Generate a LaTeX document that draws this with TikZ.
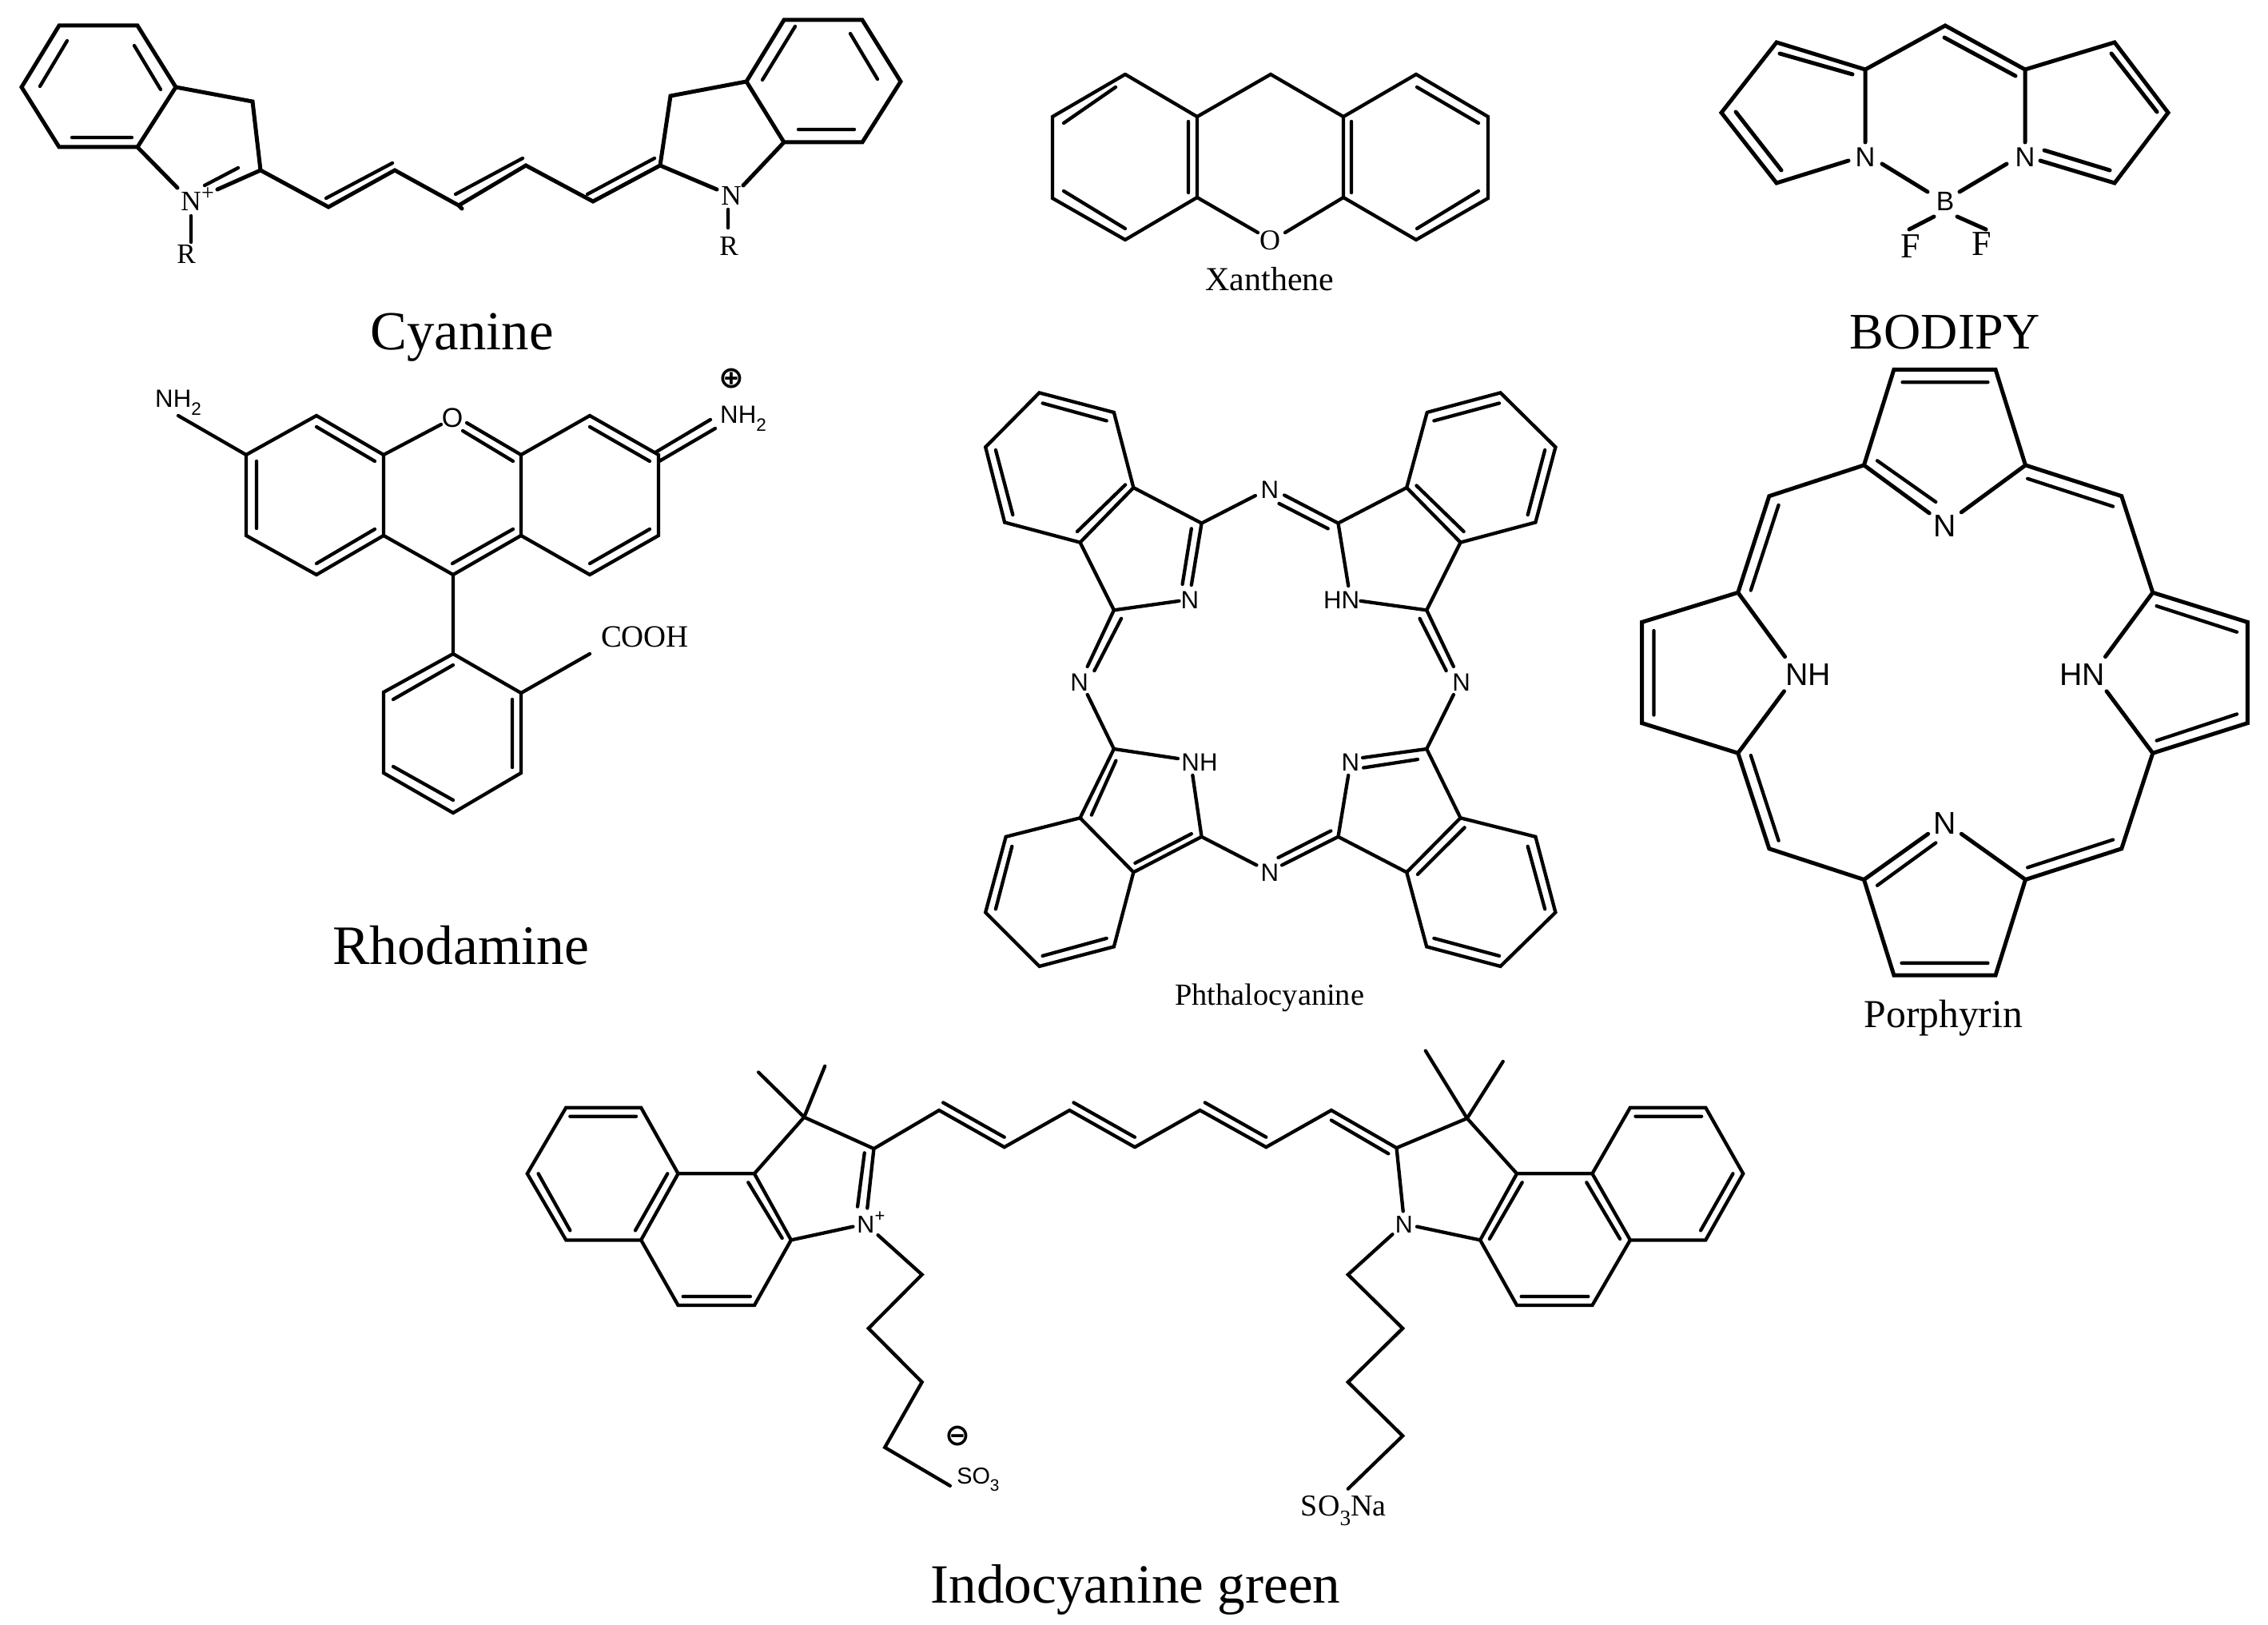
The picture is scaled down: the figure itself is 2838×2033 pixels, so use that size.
\documentclass[tikz,border=0pt]{standalone}
\usepackage{fontspec}
\setmainfont{Liberation Serif}
\setsansfont{Liberation Sans}
\newfontfamily\dejavu{DejaVu Sans}
\newcommand{\fsz}[1]{\fontsize{#1}{#1}\selectfont}
\newcommand{\lowsub}[1]{\raisebox{-0.32em}{\scalebox{0.72}{#1}}}
\tikzset{
  bond/.style={line width=1.08pt,line cap=round,line join=miter,black},
  bondA/.style={line width=1.25pt,line cap=round,line join=miter,black},
  atomS/.style={font=\sffamily\fsz{7.8},inner sep=0pt,text=black},
  atomR/.style={font=\fsz{8.8},inner sep=0pt,text=black},
  title/.style={font=\fsz{17.2},inner sep=0pt,anchor=base,text=black},
  chg/.style={font=\dejavu\bfseries\fsz{9.5},inner sep=0pt,text=black},
}
\begin{document}
\begin{tikzpicture}[x=0.25pt,y=-0.25pt]
\useasboundingbox (0,0) rectangle (2838,2033);
\fill[white] (0,0) rectangle (2838,2033);

% ---------- Cyanine
\draw[bondA] (74,32)--(172,32)--(220,109)--(172,184)--(74,184)--(27,109)--cycle
  (220,109)--(316,127)--(326,213)--(272,237)
  (172,184)--(222,235)
  (326,213)--(411,259)--(494,213)--(574,257)--(658,207)--(742,252)--(826,207)--(897,237)
  (574,257)--(578,261)
  (826,207)--(839,120)--(934,102)--(981,25)--(1079,25)--(1127,102)--(1079,178)--(981,178)--(934,102)
  (981,178)--(930,232);
\draw[bond] (84,51)--(50,108) (168,57)--(201,112) (90,172)--(165,172)
  (298,210)--(256,232)
  (408,248)--(491,204) (570,243)--(654,198) (735,243)--(819,198)
  (995,33)--(954,100) (1064,42)--(1098,99) (999,162)--(1069,162)
  (239,270)--(239,303) (911,262)--(911,285);
\node[atomR] (cyN1) at (239,252) {N};
\node[font=\fsz{7},inner sep=0pt] (cyPlus) at (260,243) {+};
\node[atomR] (cyR1) at (233,318) {R};
\node[atomR] (cyN2) at (915,245) {N};
\node[atomR] (cyR2) at (912,308) {R};
\node[title] (cyT) at (578,437) {Cyanine};

% ---------- Xanthene
\draw[bond] (1408,93)--(1498,146)--(1590,93)--(1681,146)--(1772,93)--(1862,146)--(1862,248)--(1772,300)--(1681,247)--(1681,146)
  (1681,247)--(1608,291)
  (1574,291)--(1498,247)--(1408,300)--(1317,248)--(1317,146)--(1408,93)
  (1498,146)--(1498,247);
\draw[bond] (1487,152)--(1487,241) (1691,152)--(1691,241)
  (1396,109)--(1331,154) (1331,239)--(1408,286)
  (1773,109)--(1850,154) (1850,239)--(1773,286);
\node[atomR,font=\fsz{9}] (xO) at (1589,301) {O};
\node[title,font=\fsz{10.5}] (xT) at (1589,364) {Xanthene};

% ---------- BODIPY
\draw[bondA] (2334,178)--(2334,87)--(2434,32)--(2534,87)--(2534,178)
  (2334,87)--(2223,53)--(2154,141)--(2223,229)--(2313,201)
  (2534,87)--(2646,53)--(2713,141)--(2646,229)--(2553,201)
  (2355,205)--(2412,240) (2511,205)--(2452,240)
  (2420,271)--(2389,287) (2449,271)--(2485,287)
  (2227,67)--(2318,93) (2172,140)--(2229,213)
  (2433,47)--(2522,95) (2642,67)--(2699,140)
  (2640,213)--(2558,188);
\node[atomS,font=\sffamily\fsz{8.6}] (bN1) at (2334,197) {N};
\node[atomS,font=\sffamily\fsz{8.6}] (bN2) at (2534,197) {N};
\node[atomS,font=\sffamily\fsz{8.4}] (bB) at (2434,252) {B};
\node[atomR,font=\fsz{11}] (bF1) at (2391,308) {F};
\node[atomR,font=\fsz{11}] (bF2) at (2480,305) {F};
\node[title,font=\fsz{16}] (bT) at (2434,436) {BODIPY};

% ---------- Rhodamine
\draw[bond] (223,520)--(308,569)--(396,520)--(480,569)--(480,670)--(396,719)--(308,670)--(308,569)
  (480,569)--(552,531) (584,529)--(652,569)--(652,670)--(567,719)--(480,670)
  (652,569)--(738,520)--(824,569)--(824,670)--(738,719)--(652,670)
  (825,577)--(895,536) (820,566)--(889,525)
  (567,719)--(567,818)--(652,867)--(652,967)--(567,1017)--(480,967)--(480,866)--(567,818)
  (652,867)--(738,818);
\draw[bond] (579,539)--(642,577) (396,534)--(469,577) (321,577)--(321,661)
  (396,705)--(469,662) (566,705)--(642,662) (738,534)--(813,577) (738,705)--(813,662)
  (492,875)--(567,832) (641,875)--(641,960) (492,959)--(567,1001);
\node[atomS] (rN1) at (223,504) {NH\lowsub{2}};
\node[atomS] (rN2) at (930,524) {NH\lowsub{2}};
\node[chg] (rP) at (915,474) {⊕};
\node[atomS,font=\sffamily\fsz{8.5}] (rO) at (566,523) {O};
\node[atomR,font=\fsz{9.7}] (rC) at (807,797) {COOH};
\node[title,font=\fsz{17.4}] (rT) at (577,1206) {Rhodamine};

% ---------- Phthalocyanine
\begin{scope}[shift={(1200,460)},x=0.12755pt,y=-0.13075pt]
\draw[bond] (197,60)--(380,107)--(428,287)--(297,418)--(112,370)--(65,190)--cycle
  (428,287)--(595,372)--(570,520) (297,418)--(380,580)--(540,558)
  (595,372)--(727,306) (798,305)--(930,372)--(955,522) (785,325)--(905,385)
  (930,372)--(1098,287)--(1230,418)--(1147,580)--(985,558)
  (1148,107)--(1328,60)--(1463,190)--(1414,370)--(1230,418)
  (1148,107)--(1098,287)
  (380,580)--(315,715) (398,600)--(332,725) (315,782)--(380,912)
  (1147,580)--(1213,715) (1130,600)--(1195,725) (1213,782)--(1147,912)
  (380,912)--(297,1077)--(428,1207)--(595,1122)--(573,975) (380,912)--(537,935)
  (297,1077)--(115,1122)--(65,1303)--(197,1432)--(380,1385)--(428,1207)
  (595,1122)--(730,1190) (930,1122)--(792,1190) (912,1108)--(783,1172)
  (1147,912)--(990,933) (992,957)--(1125,937) (955,975)--(930,1122)--(1098,1207)--(1230,1077)--(1147,912)
  (1230,1077)--(1414,1122)--(1463,1303)--(1328,1432)--(1147,1385)--(1098,1207);
\draw[bond] (205,85)--(362,127) (90,197)--(132,352) (290,392)--(408,280)
  (570,385)--(548,518)
  (1325,85)--(1165,127) (1437,197)--(1395,352) (1238,392)--(1122,282)
  (385,940)--(325,1070) (570,1115)--(432,1185)
  (130,1145)--(90,1295) (205,1407)--(362,1365)
  (1395,1145)--(1437,1295) (1165,1365)--(1325,1407) (1240,1100)--(1125,1212);
\node[atomS] (pN1) at (566,555) {N};
\node[atomS] (pN2) at (938,555) {HN};
\node[atomS] (pN3) at (762,292) {N};
\node[atomS] (pN4) at (295,752) {N};
\node[atomS] (pN5) at (1232,752) {N};
\node[atomS] (pN6) at (590,945) {NH};
\node[atomS] (pN7) at (960,945) {N};
\node[atomS] (pN8) at (762,1207) {N};
\node[title,font=\fsz{9.6}] (pT) at (762,1525) {Phthalocyanine};
\end{scope}

% ---------- Porphyrin
\begin{scope}[shift={(2000,440)},x=0.13362pt,y=-0.14029pt]
\draw[bondA] (622,253)--(692,40)--(930,40)--(1000,253)--(850,358)
  (622,253)--(775,360)
  (622,253)--(400,322)--(327,537)--(102,603)--(102,828)--(327,895)--(435,757)
  (327,537)--(437,680)
  (1000,253)--(1225,322)--(1298,537)--(1520,603)--(1520,828)--(1298,895)--(1190,757)
  (1298,537)--(1187,680)
  (327,895)--(400,1108)--(622,1177)--(772,1075)
  (1298,895)--(1225,1108)--(1000,1177)--(850,1075)
  (622,1177)--(692,1390)--(930,1390)--(1000,1177);
\draw[bond] (712,68)--(912,68) (653,243)--(790,335) (422,342)--(357,532)
  (1005,283)--(1205,345) (130,622)--(130,810) (1307,567)--(1495,625)
  (1307,867)--(1495,808) (357,900)--(422,1090) (653,1190)--(790,1095)
  (1005,1150)--(1205,1088) (710,1363)--(912,1363);
\node[atomS,font=\sffamily\fsz{9.8}] (hN1) at (812,388) {N};
\node[atomS,font=\sffamily\fsz{9.8}] (hN2) at (492,720) {NH};
\node[atomS,font=\sffamily\fsz{9.8}] (hN3) at (1133,720) {HN};
\node[atomS,font=\sffamily\fsz{9.8}] (hN4) at (812,1052) {N};
\node[title,font=\fsz{12.4}] (hT) at (808,1507) {Porphyrin};
\end{scope}

% ---------- Indocyanine green, left half
\begin{scope}[shift={(620,1280)},x=0.12755pt,y=-0.12008pt]
\draw[bond] (173,220)--(357,220)--(448,392)--(357,565)--(173,565)--(78,392)--cycle
  (448,392)--(635,392)--(725,565)--(635,735)--(448,735)--(357,565)
  (635,392)--(757,245)--(928,327)--(912,482)
  (757,245)--(645,128) (757,245)--(808,112)
  (725,565)--(877,530)
  (938,552)--(1046,655)--(915,795)--(1046,935)--(955,1105)--(1115,1205)
  (928,327)--(1088,227)--(1248,323)--(1408,227)--(1568,323);
\draw[bond] (183,243)--(345,243) (105,392)--(183,540) (422,392)--(343,540)
  (620,415)--(703,560) (460,712)--(625,712) (905,338)--(888,478)
  (1098,207)--(1248,297) (1418,207)--(1568,297);
\node[atomS,font=\sffamily\fsz{7.6}] (iN1) at (908,525) {N};
\node[font=\sffamily\fsz{5.5},inner sep=0pt] (iP) at (943,505) {+};
\node[atomS,font=\sffamily\fsz{7.2},anchor=base west] (iS1) at (1130,1200) {SO\lowsub{3}};
\node[chg,font=\dejavu\bfseries\fsz{9.5}] (iM) at (1133,1075) {⊖};
\end{scope}

% ---------- Indocyanine green, right half
\begin{scope}[shift={(1420,1280)},x=0.12755pt,y=-0.12008pt]
\draw[bond] (0,323)--(160,227)--(322,323)--(482,227)--(642,325)--(815,248)--(937,392)--(847,565)--(692,530)
  (642,325)--(658,490)
  (815,248)--(713,72) (815,248)--(903,100)
  (937,392)--(1122,392)--(1215,220)--(1400,220)--(1492,392)--(1400,565)--(1215,565)--(1122,735)--(937,735)--(847,565)
  (1122,392)--(1215,565)
  (632,550)--(523,655)--(657,795)--(523,935)--(657,1075)--(523,1213);
\draw[bond] (172,207)--(322,297) (482,253)--(622,340) (950,415)--(870,562)
  (948,712)--(1112,712) (1108,415)--(1190,562) (1228,243)--(1390,243) (1467,392)--(1388,540);
\node[atomS,font=\sffamily\fsz{7.6}] (iN2) at (660,525) {N};
\node[title,font=\fsz{9.5}] (iS2) at (512,1283) {SO\lowsub{3}Na};
\end{scope}
\node[title,font=\fsz{17.3}] (iT) at (1421,2005) {Indocyanine green};
\end{tikzpicture}
\end{document}
